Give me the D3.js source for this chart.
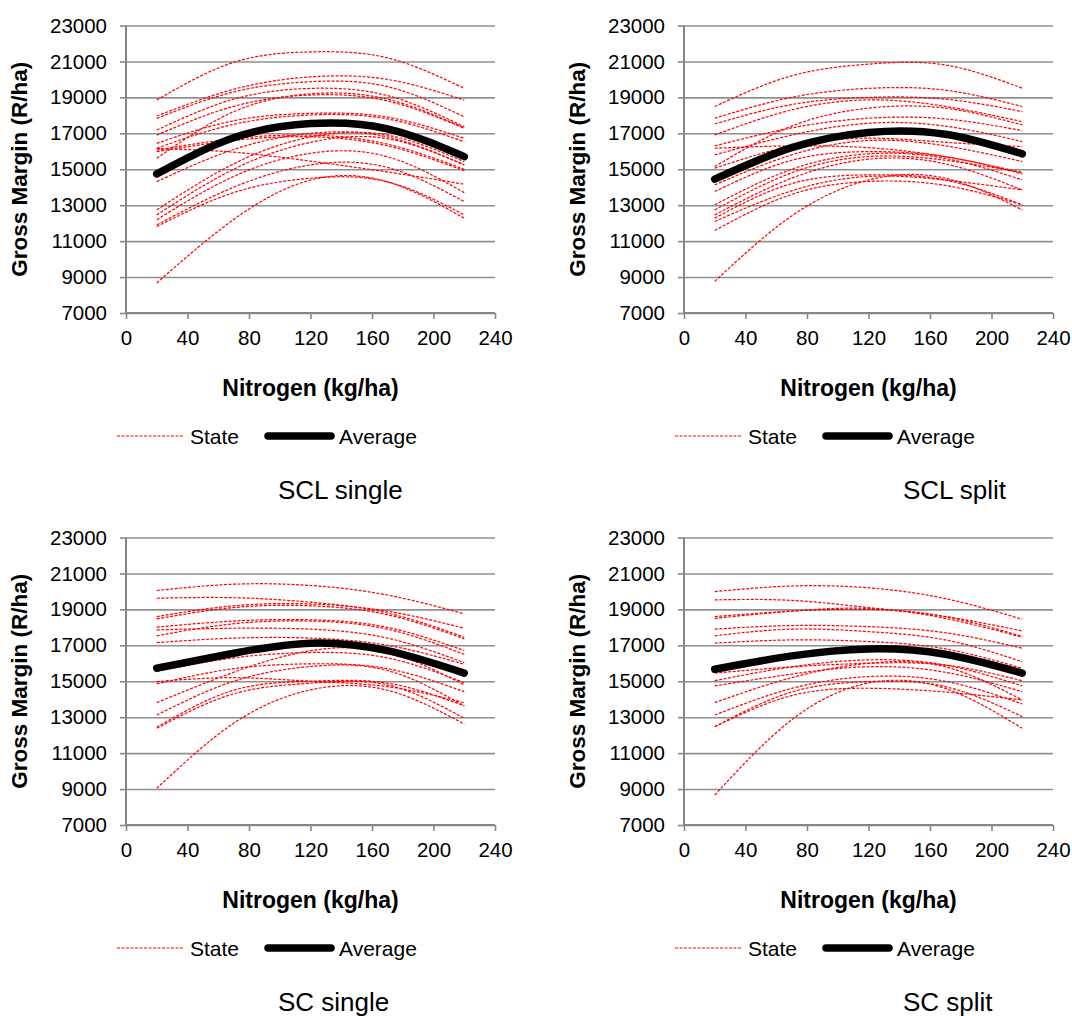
<!DOCTYPE html>
<html>
<head>
<meta charset="utf-8">
<script src="https://cdn.jsdelivr.net/npm/d3@7/dist/d3.min.js"></script>
<style>
  html, body { margin: 0; padding: 0; background: #ffffff; }
  svg { display: block; }
  text { font-family: "Liberation Sans", Arial, sans-serif; fill: #000; }
</style>
</head>
<body>
<svg id="chart" width="1072" height="1016"></svg>
<script>
// ---------------- DATA ----------------
const nitrogen = [20, 70, 120, 170, 220];
const xTicks = [0, 40, 80, 120, 160, 200, 240];
const yTicks = [7000, 9000, 11000, 13000, 15000, 17000, 19000, 21000, 23000];
const panelTitles = ["SCL single", "SCL split", "SC single", "SC split"];
const legendLabels = ["State", "Average"];
const xAxisTitle = "Nitrogen (kg/ha)";
const yAxisTitle = "Gross Margin (R/ha)";

const sclSingleStates = [
  [18850, 20950, 21530, 21200, 19500],
  [17960, 19450, 20140, 20000, 18850],
  [17830, 19300, 19870, 19600, 17920],
  [17180, 18900, 19500, 19100, 17370],
  [16900, 18500, 19130, 18800, 17280],
  [15610, 18200, 19200, 18900, 17300],
  [16440, 17700, 18110, 17900, 16720],
  [16170, 17500, 18020, 17800, 16530],
  [16070, 16700, 16900, 16400, 15000],
  [15980, 16600, 16810, 16300, 14920],
  [16150, 15950, 15450, 14850, 14170],
  [14310, 16100, 17000, 16800, 15240],
  [12740, 15300, 16800, 16900, 15420],
  [12460, 15000, 16500, 16700, 15240],
  [12190, 14600, 15890, 15700, 13700],
  [11900, 14000, 15240, 15100, 13200],
  [11810, 13700, 14500, 14300, 12460],
  [8670, 12200, 14400, 14300, 12280]
];
const sclSingleAverage = [14740, 16750, 17540, 17250, 15700];

const sclSplitStates = [
  [18490, 20200, 20850, 20800, 19510],
  [17840, 19000, 19500, 19400, 18490],
  [17520, 18600, 19000, 18900, 18210],
  [16910, 18300, 18860, 18500, 17650],
  [15150, 17400, 18400, 18400, 17470],
  [16300, 17300, 17840, 17800, 17150],
  [15800, 16900, 17560, 17400, 16540],
  [16170, 16300, 16200, 15700, 14820],
  [15060, 16300, 16730, 16500, 16260],
  [14130, 15800, 16600, 16300, 15430],
  [13760, 15500, 15980, 15700, 14740],
  [13020, 15000, 15860, 15600, 14410],
  [12740, 14800, 15710, 15500, 14820],
  [12460, 14500, 15560, 15300, 13850],
  [12280, 14200, 14690, 14400, 13020],
  [12090, 13800, 14600, 14400, 13850],
  [11590, 13600, 14320, 14100, 13020],
  [8760, 12400, 14400, 14500, 12740]
];
const sclSplitAverage = [14450, 16200, 17050, 16950, 15860];

const scSingleStates = [
  [20050, 20400, 20330, 19800, 18750],
  [19620, 19650, 19400, 18800, 17450],
  [18600, 19200, 19300, 18900, 17950],
  [18470, 19100, 19200, 18700, 17360],
  [18010, 18350, 18420, 18000, 16710],
  [17860, 17950, 17900, 17400, 16040],
  [17530, 18200, 18350, 17900, 16500],
  [17150, 17400, 17400, 17000, 15950],
  [15540, 16300, 16600, 16300, 14920],
  [14980, 15200, 15000, 14700, 13810],
  [14850, 15700, 15970, 15700, 14420],
  [13810, 15500, 16700, 16600, 14800],
  [13120, 15000, 15820, 15600, 13630],
  [12440, 14500, 15000, 14900, 13630],
  [12380, 14300, 14890, 14800, 12940],
  [9040, 12660, 14520, 14500, 12620]
];
const scSingleAverage = [15730, 16560, 17120, 16700, 15450];

const scSplitStates = [
  [19990, 20300, 20200, 19600, 18450],
  [19530, 19500, 19100, 18600, 17800],
  [18600, 18900, 19000, 18600, 17490],
  [18500, 18900, 19050, 18500, 17450],
  [17900, 18100, 18040, 17700, 16840],
  [17530, 17900, 17760, 17300, 16090],
  [17120, 17300, 17210, 16800, 15720],
  [15450, 15800, 16000, 15900, 15030],
  [15030, 15800, 16190, 15900, 14740],
  [14740, 15400, 15810, 15500, 14420],
  [13810, 15200, 16000, 15800, 13960],
  [13120, 14600, 15260, 15000, 13740],
  [12470, 14400, 14980, 14700, 13030],
  [12470, 14200, 14610, 14400, 13960],
  [8670, 12850, 14900, 14600, 12380]
];
const scSplitAverage = [15670, 16410, 16800, 16500, 15450];

// ---------------- LAYOUT ----------------
const svg = d3.select("#chart");
const plotW = 369, plotH = 287.5;
const panels = [
  { title: panelTitles[0], states: sclSingleStates, avg: sclSingleAverage, left: 126, top: 25.5, titleX: 278 },
  { title: panelTitles[1], states: sclSplitStates,  avg: sclSplitAverage,  left: 684, top: 25.5, titleX: 903 },
  { title: panelTitles[2], states: scSingleStates,  avg: scSingleAverage,  left: 126, top: 537.5, titleX: 278 },
  { title: panelTitles[3], states: scSplitStates,   avg: scSplitAverage,   left: 684, top: 537.5, titleX: 903 }
];

const gridColor = "#8f8f8f";
const axisColor = "#868686";
const red = "#ff0000";
const fontFam = "Liberation Sans, Arial, sans-serif";

panels.forEach(p => {
  const x = d3.scaleLinear().domain([0, 240]).range([p.left, p.left + plotW]);
  const y = d3.scaleLinear().domain([7000, 23000]).range([p.top + plotH, p.top]);
  const g = svg.append("g");

  // gridlines
  const grid = g.append("g")
    .attr("transform", `translate(${p.left},0)`)
    .call(d3.axisLeft(y).tickValues(yTicks).tickSize(-plotW).tickFormat(""));
  grid.select(".domain").remove();
  grid.selectAll("line").attr("stroke", gridColor).attr("stroke-width", 1.6);

  // y axis
  const ya = g.append("g")
    .attr("transform", `translate(${p.left},0)`)
    .call(d3.axisLeft(y).tickValues(yTicks).tickSize(6).tickPadding(13).tickFormat(d3.format("d")));
  ya.select(".domain").attr("stroke", axisColor).attr("stroke-width", 2)
    .attr("d", `M0,${p.top}V${p.top + plotH}`);
  ya.selectAll("line").attr("stroke", axisColor).attr("stroke-width", 1.6);
  ya.selectAll("text").attr("font-size", 20.5).attr("font-family", fontFam).attr("fill", "#000");

  // x axis
  const xa = g.append("g")
    .attr("transform", `translate(0,${p.top + plotH})`)
    .call(d3.axisBottom(x).tickValues(xTicks).tickSize(6).tickPadding(11));
  xa.select(".domain").attr("stroke", axisColor).attr("stroke-width", 2)
    .attr("d", `M${p.left},0H${p.left + plotW}`);
  xa.selectAll("line").attr("stroke", axisColor).attr("stroke-width", 1.6);
  xa.selectAll("text").attr("font-size", 20.5).attr("font-family", fontFam).attr("fill", "#000");

  // lines
  const line = d3.line()
    .x((d, i) => x(nitrogen[i]))
    .y(d => y(d))
    .curve(d3.curveNatural);

  g.append("g").selectAll("path")
    .data(p.states)
    .join("path")
    .attr("d", line)
    .attr("fill", "none")
    .attr("stroke", red)
    .attr("stroke-width", 1.2)
    .attr("stroke-dasharray", "3,1.5");

  g.append("path")
    .datum(p.avg)
    .attr("d", line)
    .attr("fill", "none")
    .attr("stroke", "#000")
    .attr("stroke-width", 7.5)
    .attr("stroke-linecap", "round");

  // y title
  g.append("text")
    .attr("transform", `translate(${p.left - 107},${p.top + plotH / 2}) rotate(-90)`)
    .attr("text-anchor", "middle")
    .attr("dominant-baseline", "central")
    .attr("font-size", 22.5)
    .attr("font-weight", "bold")
    .text(yAxisTitle);

  // x title
  g.append("text")
    .attr("x", p.left + plotW / 2)
    .attr("y", p.top + plotH + 75)
    .attr("text-anchor", "middle")
    .attr("dominant-baseline", "central")
    .attr("font-size", 23)
    .attr("font-weight", "bold")
    .text(xAxisTitle);

  // legend
  const ly = p.top + plotH + 123;
  g.append("line")
    .attr("x1", p.left - 9).attr("x2", p.left + 57)
    .attr("y1", ly).attr("y2", ly)
    .attr("stroke", red).attr("stroke-width", 1.2).attr("stroke-dasharray", "3,1.5");
  g.append("text")
    .attr("x", p.left + 64).attr("y", ly)
    .attr("dominant-baseline", "central")
    .attr("font-size", 21)
    .text(legendLabels[0]);
  g.append("line")
    .attr("x1", p.left + 142).attr("x2", p.left + 205)
    .attr("y1", ly).attr("y2", ly)
    .attr("stroke", "#000").attr("stroke-width", 7.5).attr("stroke-linecap", "round");
  g.append("text")
    .attr("x", p.left + 213).attr("y", ly)
    .attr("dominant-baseline", "central")
    .attr("font-size", 21)
    .text(legendLabels[1]);

  // panel title
  g.append("text")
    .attr("x", p.titleX)
    .attr("y", p.top + plotH + 177)
    .attr("dominant-baseline", "central")
    .attr("font-size", 26)
    .text(p.title);
});
</script>
</body>
</html>
